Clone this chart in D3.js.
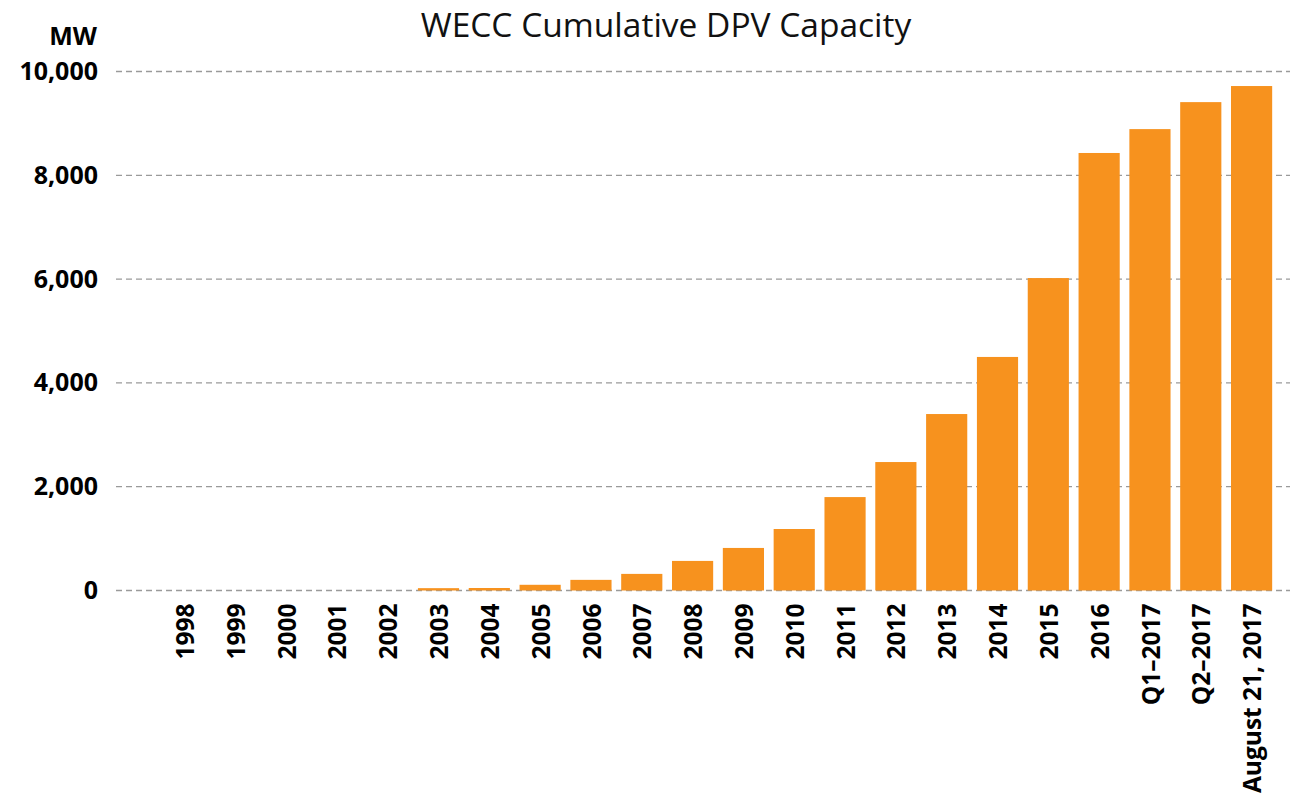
<!DOCTYPE html>
<html>
<head>
<meta charset="utf-8">
<script src="https://cdn.jsdelivr.net/npm/d3@7"></script>
<style>
  html, body { margin: 0; padding: 0; background: #fff; }
  svg { display: block; font-family: "Open Sans", "Noto Sans", sans-serif; }
</style>
</head>
<body>
<svg id="chart" width="1301" height="799"></svg>
<script>
// Cumulative distributed PV capacity in the WECC region (MW)
const categories = ["1998", "1999", "2000", "2001", "2002", "2003", "2004", "2005",
  "2006", "2007", "2008", "2009", "2010", "2011", "2012", "2013", "2014", "2015",
  "2016", "Q1\u20132017", "Q2\u20132017", "August 21, 2017"];
const capacityMW = [0, 0, 0, 0, 0, 45, 48, 110, 205, 320, 570, 820, 1185, 1800,
  2475, 3400, 4500, 6020, 8430, 8890, 9410, 9720];
const yTicks = [0, 2000, 4000, 6000, 8000, 10000];

const svg = d3.select("#chart");
const margin = { left: 159, right: 24, top: 71.5, bottom: 208.5 };
const W = 1301, H = 799;

const x = d3.scaleBand()
  .domain(categories)
  .range([margin.left, W - margin.right])
  .paddingInner(0.19)
  .paddingOuter(0.095);

const y = d3.scaleLinear()
  .domain([0, 10000])
  .range([H - margin.bottom, margin.top]);

// Dashed horizontal gridlines
svg.append("g")
  .selectAll("line")
  .data(yTicks)
  .join("line")
  .attr("x1", 116)
  .attr("x2", 1290)
  .attr("y1", d => y(d))
  .attr("y2", d => y(d))
  .attr("stroke", "#9a9a9a")
  .attr("stroke-width", 1.3)
  .attr("stroke-dasharray", "6,4");

// Bars
svg.append("g")
  .selectAll("rect")
  .data(categories)
  .join("rect")
  .attr("x", d => x(d))
  .attr("width", x.bandwidth())
  .attr("y", (d, i) => y(capacityMW[i]))
  .attr("height", (d, i) => y(0) - y(capacityMW[i]))
  .attr("fill", "#f7921e");

// Y axis labels
const yAxis = d3.axisLeft(y)
  .tickValues(yTicks)
  .tickFormat(d3.format(","))
  .tickSize(0)
  .tickPadding(0);
const gy = svg.append("g")
  .attr("transform", "translate(98,0)")
  .call(yAxis);
gy.select(".domain").remove();
gy.selectAll("text")
  .attr("font-family", "'Open Sans', sans-serif")
  .attr("font-size", 25)
  .attr("font-weight", "bold")
  .attr("fill", "#000");

// X axis labels (rotated)
const xAxis = d3.axisBottom(x).tickSize(0).tickPadding(0);
const gx = svg.append("g")
  .attr("transform", `translate(0,${y(0)})`)
  .call(xAxis);
gx.select(".domain").remove();
gx.selectAll("text")
  .attr("font-family", "'Open Sans', sans-serif")
  .attr("font-size", 24.5)
  .attr("font-weight", "bold")
  .attr("fill", "#000")
  .attr("text-anchor", "end")
  .attr("dy", "0.35em")
  .attr("transform", "translate(1,13) rotate(-90)");

// Unit label
svg.append("text")
  .attr("x", 97)
  .attr("y", 45)
  .attr("text-anchor", "end")
  .attr("font-size", 25)
  .attr("font-weight", "bold")
  .text("MW");

// Title
svg.append("text")
  .attr("x", 666)
  .attr("y", 37)
  .attr("text-anchor", "middle")
  .attr("font-size", 33.5)
  .attr("fill", "#111")
  .text("WECC Cumulative DPV Capacity");
</script>
</body>
</html>
